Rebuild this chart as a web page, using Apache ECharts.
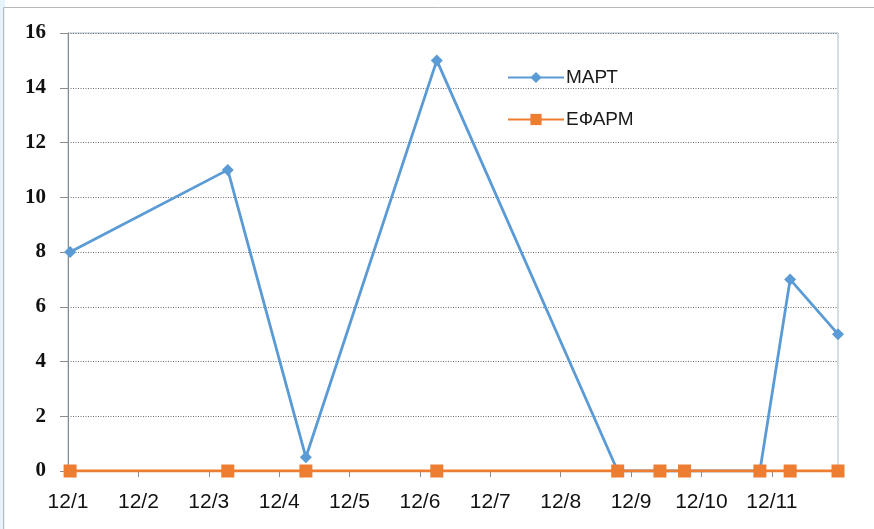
<!DOCTYPE html>
<html>
<head>
<meta charset="utf-8">
<script src="https://cdn.jsdelivr.net/npm/echarts@6/dist/echarts.min.js"></script>
<style>
html,body{margin:0;padding:0;background:#fff;}
#chart{width:874px;height:529px;}
</style>
</head>
<body>
<div id="chart"></div>
<script>
// x positions in day units (day of December, fractional)
var dayPositions = [1.03, 3.27, 4.38, 6.24, 8.81, 9.41, 9.76, 10.83, 11.26, 11.94];
var martDays = [1.03, 3.27, 4.38, 6.24, 8.81, 10.83, 11.26, 11.94];
var martValues = [8, 11, 0.5, 15, 0, 0, 7, 5];
var efarmValues = [0, 0, 0, 0, 0, 0, 0, 0, 0, 0];
var tickDays = [1, 2, 3, 4, 5, 6, 7, 8, 9, 10, 11];
var tickLabels = ['12/1','12/2','12/3','12/4','12/5','12/6','12/7','12/8','12/9','12/10','12/11'];
var seriesNames = ['МАРТ', 'ЕФАРМ'];

function pairs(xs, ys) {
  var out = [];
  for (var i = 0; i < xs.length; i++) out.push([xs[i], ys[i]]);
  return out;
}

var chart = echarts.init(document.getElementById('chart'), null, {renderer: 'canvas'});
chart.setOption({
  backgroundColor: '#ffffff',
  animation: false,
  graphic: [
    {type: 'rect', shape: {x: 0, y: 0, width: 5, height: 529}, style: {fill: '#e6f3fb'}, z: -10},
    {type: 'rect', shape: {x: 3.5, y: 7.5, width: 880, height: 530}, style: {fill: 'none', stroke: '#b9b9b9', lineWidth: 1}, z: -5}
  ],
  grid: {
    left: 68, right: 36, top: 33, bottom: 58,
    show: true, borderColor: '#a9bccf', borderWidth: 1, backgroundColor: 'transparent'
  },
  legend: {
    orient: 'vertical',
    left: 502, top: 63,
    itemWidth: 56, itemHeight: 14, itemGap: 23,
    textStyle: {fontFamily: 'Liberation Sans', fontSize: 19, color: '#1a1a1a', padding: [0, 0, 0, -3]},
    data: seriesNames
  },
  xAxis: {
    type: 'value',
    min: 1,
    max: dayPositions[dayPositions.length - 1],
    splitLine: {show: false},
    axisLine: {show: true, onZero: false, lineStyle: {color: '#8c8c8c', width: 1}},
    axisTick: {show: true, length: 6, customValues: tickDays, lineStyle: {color: '#8c8c8c'}},
    axisLabel: {
      customValues: tickDays,
      margin: 21,
      fontFamily: 'Liberation Sans', fontSize: 21, color: '#111',
      formatter: function (v) {
        var i = tickDays.indexOf(Math.round(v));
        return i >= 0 ? tickLabels[i] : '';
      }
    }
  },
  yAxis: {
    type: 'value',
    min: 0, max: 16, interval: 2,
    axisLine: {show: true, lineStyle: {color: '#8c8c8c', width: 1}},
    axisTick: {show: true, length: 8, lineStyle: {color: '#8c8c8c'}},
    axisLabel: {margin: 22, fontFamily: 'Liberation Serif', fontWeight: 'bold', fontSize: 21, color: '#111'},
    splitLine: {show: true, lineStyle: {color: '#6f6f6f', type: [1, 1.5], width: 1}}
  },
  series: [
    {
      name: seriesNames[0],
      type: 'line',
      data: pairs(martDays, martValues),
      symbol: 'diamond', symbolSize: 12,
      lineStyle: {color: '#5b9bd5', width: 2.8},
      itemStyle: {color: '#5b9bd5'},
      z: 2
    },
    {
      name: seriesNames[1],
      type: 'line',
      data: pairs(dayPositions, efarmValues),
      symbol: 'rect', symbolSize: 13,
      lineStyle: {color: '#ed7d31', width: 2.8},
      itemStyle: {color: '#ed7d31'},
      z: 3
    }
  ]
});
</script>
</body>
</html>
